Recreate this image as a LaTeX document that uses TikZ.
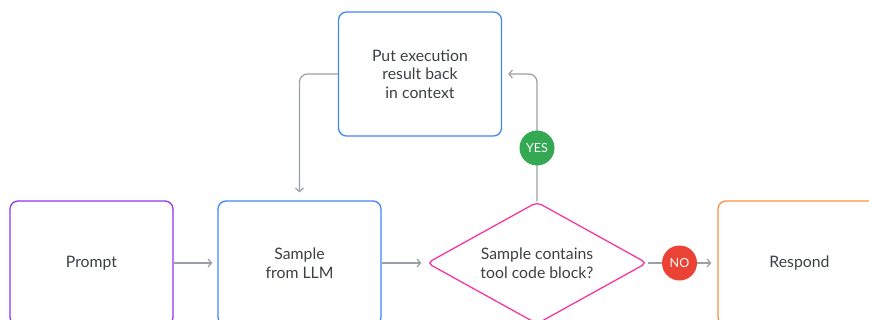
\documentclass[tikz,border=0pt]{standalone}
\usepackage{fontspec}
\setmainfont{Lato}
\usetikzlibrary{shapes.geometric,arrows.meta}
\definecolor{txt}{HTML}{3C4043}
\definecolor{cpurple}{HTML}{9334E6}
\definecolor{cblue}{HTML}{4285F4}
\definecolor{cpink}{HTML}{F538A0}
\definecolor{corange}{HTML}{FA903E}
\definecolor{cgreen}{HTML}{34A853}
\definecolor{cred}{HTML}{EA4335}
\definecolor{cgray}{HTML}{9AA0A6}
\tikzset{
  boxnode/.style={draw, rectangle, rounded corners=8pt, minimum width=163pt, minimum height=124pt,
    line width=1.3pt, align=center, text=txt, font=\fontsize{15.8}{18.5}\selectfont, inner sep=0pt},
  dianode/.style={draw=cpink, diamond, aspect=1.8, rounded corners=5pt, minimum width=220pt, minimum height=122pt,
    line width=1.3pt, align=center, text=txt, font=\fontsize{15.8}{18.5}\selectfont, inner sep=0pt},
  badge/.style={circle, minimum size=35pt, inner sep=0pt, text=white, font=\fontsize{12.5}{14}\selectfont},
  conn/.style={draw=cgray, line width=1.2pt, rounded corners=8pt, -{Straight Barb[length=3.5pt,width=8pt]}},
  plainconn/.style={draw=cgray, line width=1.2pt}
}
\begin{document}
\begin{tikzpicture}[x=1pt,y=-1pt]
\useasboundingbox (0,0) rectangle (869,320);
\clip (0,0) rectangle (869,320);
\node[boxnode, draw=cpurple] (prompt) at (91.5,263) {Prompt};
\node[boxnode, draw=cblue] (sample) at (299.5,263) {Sample\\from LLM};
\node[boxnode, draw=cblue] (put) at (420,74) {Put execution\\result back\\in context};
\node[dianode] (dia) at (537,263) {Sample contains\\tool code block?};
\node[boxnode, draw=corange] (resp) at (799.5,263) {Respond};
\node[badge, fill=cred] (no) at (679.5,263) {NO};

\draw[conn, shorten >=5pt] (prompt.east) -- (sample.west);
\draw[conn, shorten >=5pt] (sample.east) -- (dia.west);
\draw[plainconn] (dia.east) -- (no.west);
\draw[conn, shorten >=6pt] (no.east) -- (resp.west);
\draw[conn] (put.west) -| ([yshift=8pt]sample.north);
\draw[conn] (dia.north) |- ([xshift=6pt]put.east);
\node[badge, fill=cgreen] (yes) at (537,148) {YES};
\end{tikzpicture}
\end{document}
